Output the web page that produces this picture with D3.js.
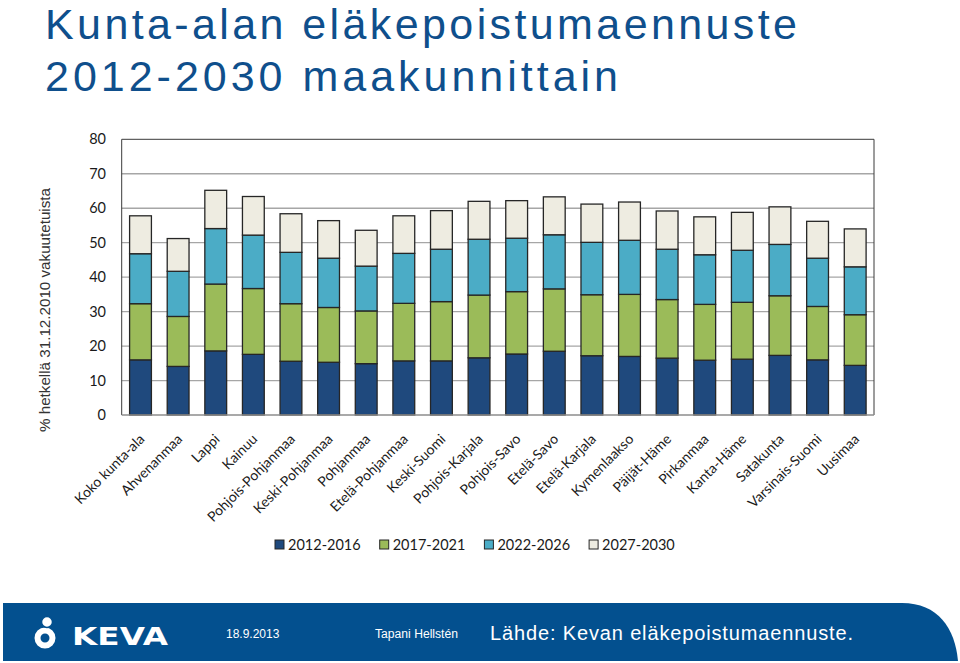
<!DOCTYPE html>
<html>
<head>
<meta charset="utf-8">
<script src="https://cdn.jsdelivr.net/npm/d3@7/dist/d3.min.js"></script>
<style>
  html, body { margin: 0; padding: 0; background: #fff; }
  svg { display: block; }
</style>
</head>
<body>
<svg id="chart" width="960" height="663"></svg>
<script>
const categories = ["Koko kunta-ala","Ahvenanmaa","Lappi","Kainuu","Pohjois-Pohjanmaa","Keski-Pohjanmaa","Pohjanmaa","Etelä-Pohjanmaa","Keski-Suomi","Pohjois-Karjala","Pohjois-Savo","Etelä-Savo","Etelä-Karjala","Kymenlaakso","Päijät-Häme","Pirkanmaa","Kanta-Häme","Satakunta","Varsinais-Suomi","Uusimaa"];
const seriesNames = ["2012-2016","2017-2021","2022-2026","2027-2030"];
const s2012_2016 = [16.0,14.1,18.6,17.6,15.6,15.3,14.9,15.7,15.7,16.6,17.7,18.5,17.2,17.0,16.5,15.9,16.2,17.3,16.0,14.4];
const s2017_2021 = [16.3,14.5,19.4,19.1,16.7,15.9,15.3,16.7,17.2,18.2,18.1,18.1,17.7,18.0,17.0,16.2,16.5,17.3,15.5,14.7];
const s2022_2026 = [14.5,13.1,16.1,15.5,14.9,14.3,13.0,14.5,15.2,16.2,15.5,15.7,15.2,15.7,14.6,14.4,15.1,14.9,14.0,13.9];
const s2027_2030 = [11.0,9.5,11.1,11.2,11.2,10.9,10.4,10.9,11.2,11.0,10.9,11.0,11.1,11.1,11.1,11.0,11.0,10.9,10.7,11.0];
const yTicks = [0,10,20,30,40,50,60,70,80];
const titleLines = ["Kunta-alan eläkepoistumaennuste","2012-2030 maakunnittain"];
const yTitle = "% hetkellä 31.12.2010 vakuutetuista";
const footerDate = "18.9.2013";
const footerAuthor = "Tapani Hellstén";
const footerSource = "Lähde: Kevan eläkepoistumaennuste.";

const colors = ["#1F497D","#9BBB59","#4BACC6","#EEECE1"];
const svg = d3.select("#chart");

// Title
const titleColor = "#0F4F8C";
svg.append("text").attr("x",45).attr("y",39).attr("fill",titleColor)
  .style("font-family","'Liberation Sans', Arial, sans-serif").style("font-size","43px")
  .attr("textLength",752).attr("lengthAdjust","spacing").text(titleLines[0]);
svg.append("text").attr("x",45).attr("y",91).attr("fill",titleColor)
  .style("font-family","'Liberation Sans', Arial, sans-serif").style("font-size","43px")
  .attr("textLength",573).attr("lengthAdjust","spacing").text(titleLines[1]);

// Scales
const pL = 121.7, pR = 874, pT = 139.3, pB = 415;
const x = d3.scaleBand().domain(categories).range([pL,pR]).paddingInner(0.42).paddingOuter(0.21);
const y = d3.scaleLinear().domain([0,80]).range([pB,pT]);

// Gridlines
svg.append("g").selectAll("line").data(yTicks.filter(t => t>0 && t<80)).join("line")
  .attr("x1",pL).attr("x2",pR).attr("y1",d=>y(d)).attr("y2",d=>y(d))
  .attr("stroke","#A6A6A6").attr("stroke-width",1.3);

// Plot border (top/left/right)
svg.append("path")
  .attr("d",`M${pL},${pB}V${pT}H${pR}V${pB}`)
  .attr("fill","none").attr("stroke","#3a3a3a").attr("stroke-width",1);

// Stack
const table = categories.map((c,i)=>({cat:c, "2012-2016":s2012_2016[i], "2017-2021":s2017_2021[i], "2022-2026":s2022_2026[i], "2027-2030":s2027_2030[i]}));
const stacked = d3.stack().keys(seriesNames)(table);
svg.append("g").selectAll("g").data(stacked).join("g")
  .attr("fill",(d,i)=>colors[i])
  .selectAll("rect").data(d=>d).join("rect")
  .attr("x",d=>x(d.data.cat)).attr("width",x.bandwidth())
  .attr("y",d=>y(d[1])).attr("height",d=>y(d[0])-y(d[1]))
  .attr("stroke","#262626").attr("stroke-width",1.3);

// X axis line
svg.append("line").attr("x1",pL).attr("x2",pR).attr("y1",pB).attr("y2",pB)
  .attr("stroke","#8c8c8c").attr("stroke-width",1.3);

// Y ticks labels
const yAxis = d3.axisLeft(y).tickValues(yTicks).tickSize(0).tickPadding(0);
const ya = svg.append("g").attr("transform",`translate(106,0)`).call(yAxis);
ya.select(".domain").remove();
ya.selectAll("text").style("font-family","Lato, 'Open Sans', sans-serif").style("font-size","14.5px").attr("fill","#1a1a1a");

// X labels
const xAxis = d3.axisBottom(x).tickSize(0).tickPadding(0);
const xa = svg.append("g").attr("transform",`translate(0,${pB})`).call(xAxis);
xa.select(".domain").remove();
xa.selectAll("text")
  .style("font-family","Lato, 'Open Sans', sans-serif").style("font-size","14px").attr("fill","#1a1a1a")
  .attr("text-anchor","end").attr("dy",null).attr("y",0)
  .attr("transform","translate(5,25) rotate(-45)");

// Y title
svg.append("text").attr("transform","translate(50,310) rotate(-90)")
  .attr("text-anchor","middle").attr("fill","#333")
  .style("font-family","'Liberation Sans', Arial, sans-serif").style("font-size","15.5px")
  .attr("textLength",244).attr("lengthAdjust","spacingAndGlyphs")
  .text(yTitle);

// Legend
const lg = svg.append("g").attr("transform","translate(275,545)");
seriesNames.forEach((n,i)=>{
  const g = lg.append("g").attr("transform",`translate(${i*104.7},0)`);
  g.append("rect").attr("x",0).attr("y",-5).attr("width",9).attr("height",9)
    .attr("fill",colors[i]).attr("stroke","#262626").attr("stroke-width",1);
  g.append("text").attr("x",13).attr("y",0).attr("dy","0.35em")
    .style("font-family","Lato, 'Open Sans', sans-serif").style("font-size","14.5px").attr("fill","#1a1a1a")
    .text(n);
});

// Footer band
const band = "#03508F";
svg.append("path").attr("d","M3,603 H902 C938,603 955,628 958,661 H3 Z").attr("fill",band);

// Logo
const logo = svg.append("g");
logo.append("circle").attr("cx",45).attr("cy",638).attr("r",7.5).attr("fill","none").attr("stroke","#fff").attr("stroke-width",6);
logo.append("circle").attr("cx",47).attr("cy",622).attr("r",5.5).attr("fill","#fff").attr("stroke",band).attr("stroke-width",1.5);
logo.append("text").attr("x",72).attr("y",645).attr("fill","#fff")
  .style("font-family","'DejaVu Sans', sans-serif").style("font-size","25px").style("font-weight","bold")
  .attr("textLength",96).attr("lengthAdjust","spacingAndGlyphs").text("KEVA");

svg.append("text").attr("x",226).attr("y",638).attr("fill","#fff")
  .style("font-family","'Liberation Sans', Arial, sans-serif").style("font-size","12px").text(footerDate);
svg.append("text").attr("x",375).attr("y",638).attr("fill","#fff")
  .style("font-family","'Liberation Sans', Arial, sans-serif").style("font-size","12px")
  .attr("textLength",83).attr("lengthAdjust","spacingAndGlyphs").text(footerAuthor);
svg.append("text").attr("x",490).attr("y",640).attr("fill","#fff")
  .style("font-family","'Liberation Sans', Arial, sans-serif").style("font-size","20px")
  .attr("textLength",363).attr("lengthAdjust","spacing").text(footerSource);
</script>
</body>
</html>
